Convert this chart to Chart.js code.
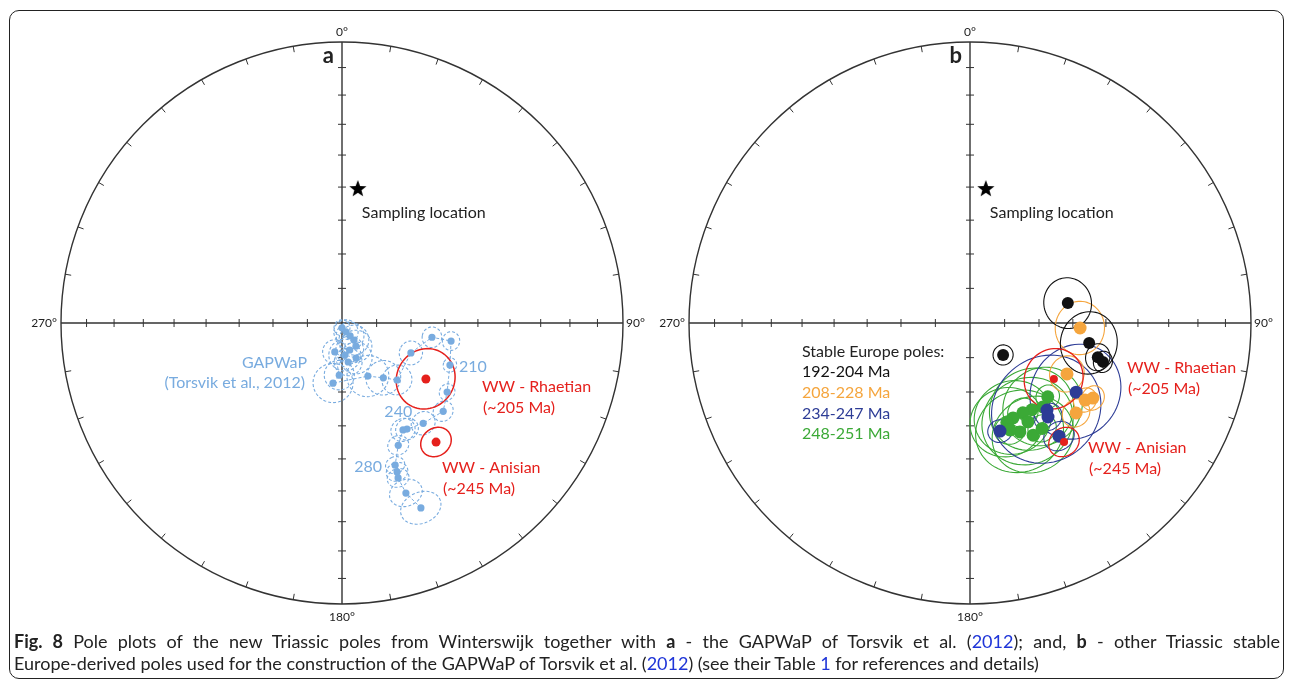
<!DOCTYPE html>
<html>
<head>
<meta charset="utf-8">
<script src="https://cdn.jsdelivr.net/npm/chart.js@4.4.0/dist/chart.umd.min.js"></script>
<style>
    body { margin: 0; width: 1292px; height: 687px; overflow: hidden; background: #fff; font-family: Lato, 'Open Sans', sans-serif; }
    #frame { position: absolute; left: 9px; top: 10px; width: 1275px; height: 669px; border: 1.5px solid #222; border-radius: 10px; box-sizing: border-box; }
    .net { position: absolute; top: -7px; width: 660px; height: 660px; }
    #netA { left: 12px; }
    #netB { left: 640px; }
    #caption { position: absolute; left: 14px; top: 630px; width: 1266px; font-size: 18px; line-height: 22px; color: #222; }
    #caption p { margin: 0; }
    #caption .l1 { text-align: justify; text-align-last: justify; }
    #caption .ref { color: #1f35d8; }
</style>
</head>
<body>
<div id="frame"></div>
<canvas id="netA" class="net" width="660" height="660"></canvas>
<canvas id="netB" class="net" width="660" height="660"></canvas>
<div id="caption">
    <p class="l1"><b>Fig. 8</b> Pole plots of the new Triassic poles from Winterswijk together with <b>a</b> - the GAPWaP of Torsvik et al. (<span class="ref">2012</span>); and, <b>b</b> - other Triassic stable</p>
    <p>Europe-derived poles used for the construction of the GAPWaP of Torsvik et al. (<span class="ref">2012</span>) (see their Table <span class="ref">1</span> for references and details)</p>
</div>
<script>
// ---- data (pole latitude / longitude / A95, degrees) ----

// sampling site
const siteLat = [50.0];
const siteLon = [6.7];

// new Winterswijk poles
const wwNames = ['WW - Rhaetian', 'WW - Anisian'];
const wwAges = ['(~205 Ma)', '(~245 Ma)'];
const wwLat = [60.6, 45.1];
const wwLon = [123.7, 141.7];
const wwA95 = [8.6, 4.3];

// panel a: GAPWaP of Torsvik et al. 2012 (30 - 320 Ma)
const gapAges = [30, 40, 50, 60, 70, 80, 90, 100, 110, 120, 130, 140, 150, 160, 170,
    180, 190, 200, 210, 220, 230, 240, 250, 260, 270, 280, 290, 300, 310, 320];
const gapLat = [88.6, 87.2, 85.6, 84.0, 82.2, 81.9, 80.7, 79.1, 78.6, 81.4, 74.9, 72.4, 72.9, 70.1, 67.0,
    68.2, 63.5, 57.7, 56.1, 53.1, 50.5, 52.1, 53.5, 53.9, 50.4, 45.1, 42.9, 41.0, 35.6, 29.2];
const gapLon = [180, 156, 148, 145, 149, 164, 175, 158, 171, 194, 183, 188.5, 154, 143, 136,
    113.5, 99, 99.4, 111.3, 123.3, 131.1, 141, 148.5, 150.3, 155.3, 159.5, 159.7, 160.1, 159.4, 156.9];
const gapA95 = [2.3, 3.5, 4.0, 4.3, 4.6, 4.0, 4.6, 4.6, 4.0, 3.5, 4.3, 5.7, 6.0, 5.0, 4.3,
    3.4, 2.9, 2.6, 2.0, 2.3, 2.9, 3.4, 3.2, 3.4, 2.9, 2.6, 2.9, 2.9, 4.3, 5.2];
const gapLabelAges = [210, 240, 280];

// panel b: stable Europe poles by age group
const groupNames = ['192-204 Ma', '208-228 Ma', '234-247 Ma', '248-251 Ma'];
const blackLat = [60.9, 54.6, 51.1, 49.2, 76.7];
const blackLon = [78.5, 99.5, 105, 106.3, 134];
const blackA95 = [7.1, 8.6, 3.7, 2.9, 2.9];
const orangeLat = [57.8, 58.0, 49.2, 47.5, 49.0];
const orangeLon = [92.6, 117.7, 123.8, 121.4, 130.3];
const orangeA95 = [7.4, 5.1, 3.4, 3.4, 4.0];
const blueLat = [52.8, 56.0, 54.2, 57.2, 47.5];
const blueLon = [123.1, 138.5, 140.3, 164.5, 141.8];
const blueA95 = [13.4, 15.7, 4.0, 3.4, 4.3];
const greenLat = [58.7, 57.5, 58.9, 59.6, 59.6, 59.0, 56.5, 52.2, 54.9, 56.6, 52.5];
const greenLon = [133.5, 139, 144.5, 149.5, 155.6, 159.7, 149.6, 150.6, 155.4, 159.5, 145.6];
const greenA95 = [3.4, 11.4, 12.0, 4.3, 10.9, 10.3, 12.9, 11.4, 12.3, 4.3, 4.0];

const COL = {
    gap: '#78abdf', red: '#e5201c', black: '#111111',
    orange: '#f5a53d', blue: '#2d3c96', green: '#3ba936', axis: '#333333'
};
const D = Math.PI / 180;

// north-polar equal-area projection, radius 1 at the equator
function project(lat, lon) {
    const r = Math.SQRT2 * Math.sin((90 - lat) * D / 2);
    return { x: r * Math.sin(lon * D), y: r * Math.cos(lon * D) };
}

function poles(lat, lon) {
    return lat.map((v, i) => project(v, lon[i]));
}

// outline of the A95 cone around a pole
function cone(lat, lon, a) {
    const pts = [];
    const la = lat * D, ar = a * D;
    for (let b = 0; b <= 360; b += 5) {
        const s = Math.sin(la) * Math.cos(ar) + Math.cos(la) * Math.sin(ar) * Math.cos(b * D);
        const pl = Math.asin(s);
        const dl = Math.atan2(Math.sin(b * D) * Math.sin(ar) * Math.cos(la), Math.cos(ar) - Math.sin(la) * s);
        pts.push(project(pl / D, lon + dl / D));
    }
    return pts;
}

function cones(lat, lon, a95, color, width, dash) {
    return lat.map((v, i) => ({ pts: cone(v, lon[i], a95[i]), color, width, dash }));
}

// filled five point star used for the sampling site
function starImage(size, color) {
    const c = document.createElement('canvas');
    c.width = c.height = size;
    const g = c.getContext('2d');
    const R = size / 2, r = R * 0.42;
    g.fillStyle = color;
    g.beginPath();
    for (let i = 0; i < 10; i++) {
        const rad = i % 2 ? r : R;
        const t = -Math.PI / 2 + i * Math.PI / 5;
        g.lineTo(R + rad * Math.cos(t), R + 1 + rad * Math.sin(t));
    }
    g.closePath();
    g.fill();
    return c;
}

// frame, cones and text of one stereonet
function netPlugin(spec) {
    return {
        id: 'net',
        beforeDatasetsDraw(chart) {
            const ctx = chart.ctx;
            const xs = chart.scales.x, ys = chart.scales.y;
            const px = p => [xs.getPixelForValue(p.x), ys.getPixelForValue(p.y)];
            const cx = xs.getPixelForValue(0), cy = ys.getPixelForValue(0);
            const R = xs.getPixelForValue(1) - cx;
            ctx.save();
            ctx.strokeStyle = COL.axis;
            ctx.lineWidth = 1.4;
            ctx.beginPath();
            ctx.arc(cx, cy, R, 0, 2 * Math.PI);
            ctx.stroke();
            ctx.beginPath();
            ctx.moveTo(cx - R, cy); ctx.lineTo(cx + R, cy);
            ctx.moveTo(cx, cy - R); ctx.lineTo(cx, cy + R);
            ctx.stroke();
            ctx.lineWidth = 1;
            ctx.beginPath();
            for (let lon = 10; lon < 360; lon += 10) {
                if (lon % 90 === 0) continue;
                const s = Math.sin(lon * D), c = Math.cos(lon * D);
                ctx.moveTo(cx + R * s, cy - R * c);
                ctx.lineTo(cx + (R - 6) * s, cy - (R - 6) * c);
            }
            for (let lat = 10; lat < 90; lat += 10) {
                [0, 90, 180, 270].forEach(lon => {
                    const [x, y] = px(project(lat, lon));
                    if (lon % 180 === 0) { ctx.moveTo(x - 4, y); ctx.lineTo(x + 4, y); }
                    else { ctx.moveTo(x, y - 4); ctx.lineTo(x, y + 4); }
                });
            }
            ctx.stroke();
            spec.cones.forEach(c => {
                ctx.strokeStyle = c.color;
                ctx.lineWidth = c.width;
                ctx.setLineDash(c.dash || []);
                ctx.beginPath();
                c.pts.forEach((p, i) => {
                    const [x, y] = px(p);
                    if (i) ctx.lineTo(x, y); else ctx.moveTo(x, y);
                });
                ctx.closePath();
                ctx.stroke();
            });
            ctx.restore();
        },
        afterDatasetsDraw(chart) {
            const ctx = chart.ctx;
            const xs = chart.scales.x, ys = chart.scales.y;
            const cx = xs.getPixelForValue(0), cy = ys.getPixelForValue(0);
            const R = xs.getPixelForValue(1) - cx;
            ctx.save();
            ctx.textBaseline = 'middle';
            ctx.font = '12px Lato';
            ctx.fillStyle = '#222';
            ctx.textAlign = 'center';
            ctx.fillText('0°', cx, cy - R - 10);
            ctx.fillText('180°', cx, cy + R + 13);
            ctx.textAlign = 'right';
            ctx.fillText('270°', cx - R - 4, cy);
            ctx.textAlign = 'left';
            ctx.fillText('90°', cx + R + 3, cy);
            ctx.font = 'bold 22px Lato';
            ctx.textAlign = 'right';
            ctx.fillText(spec.letter, cx - 8, cy - R + 14);
            spec.texts.forEach(t => {
                let ax = cx, ay = cy;
                if (t.at) { ax = xs.getPixelForValue(t.at.x); ay = ys.getPixelForValue(t.at.y); }
                ctx.font = t.font || '16px Lato';
                ctx.fillStyle = t.color || '#222';
                ctx.textAlign = t.align || 'left';
                ctx.fillText(t.text, ax + t.dx, ay + t.dy);
            });
            ctx.restore();
        }
    };
}

function makeNet(id, datasets, spec) {
    return new Chart(document.getElementById(id), {
        type: 'scatter',
        data: { datasets },
        options: {
            responsive: false,
            animation: false,
            events: [],
            layout: { padding: 49 },
            scales: {
                x: { type: 'linear', min: -1, max: 1, display: false },
                y: { type: 'linear', min: -1, max: 1, display: false }
            },
            plugins: { legend: { display: false }, tooltip: { enabled: false } }
        },
        plugins: [netPlugin(spec)]
    });
}

const site = poles(siteLat, siteLon)[0];
const ww = poles(wwLat, wwLon);
const gap = poles(gapLat, gapLon);
const star = starImage(18, '#000');

function dots(data, color, radius) {
    return { data, showLine: false, pointRadius: radius, pointBackgroundColor: color, pointBorderWidth: 0 };
}
const siteSet = { data: [site], pointStyle: star, pointRadius: 9 };

// panel a
makeNet('netA', [
    siteSet,
    dots(ww, COL.red, 4.5),
    Object.assign(dots(gap, COL.gap, 3.6), { showLine: true, borderColor: COL.gap, borderWidth: 1, borderDash: [3, 2] })
], {
    letter: 'a',
    cones: [
        ...cones(gapLat, gapLon, gapA95, COL.gap, 1.1, [3, 2]),
        ...cones(wwLat, wwLon, wwA95, COL.red, 1.5)
    ],
    texts: [
        { text: 'Sampling location', at: site, dx: 4, dy: 25 },
        { text: 'GAPWaP', dx: -35, dy: 40, align: 'right', color: COL.gap },
        { text: '(Torsvik et al., 2012)', dx: -37, dy: 60, align: 'right', color: COL.gap },
        ...gapLabelAges.map((age, k) => {
            const p = gap[gapAges.indexOf(age)];
            const off = [[9, 2, 'left'], [-11, -11, 'right'], [-13, 2, 'right']][k];
            return { text: String(age), at: p, dx: off[0], dy: off[1], align: off[2], color: COL.gap };
        }),
        { text: wwNames[0], at: ww[0], dx: 56, dy: 8, color: COL.red },
        { text: wwAges[0], at: ww[0], dx: 57, dy: 29, color: COL.red },
        { text: wwNames[1], at: ww[1], dx: 6, dy: 26, color: COL.red },
        { text: wwAges[1], at: ww[1], dx: 7, dy: 47, color: COL.red }
    ]
});

// panel b
makeNet('netB', [
    siteSet,
    dots(ww, COL.red, 4),
    dots(poles(blackLat, blackLon), COL.black, 6),
    dots(poles(orangeLat, orangeLon), COL.orange, 6.5),
    dots(poles(blueLat, blueLon), COL.blue, 6.5),
    dots(poles(greenLat, greenLon), COL.green, 6.5)
], {
    letter: 'b',
    cones: [
        ...cones(greenLat, greenLon, greenA95, COL.green, 1.1),
        ...cones(blueLat, blueLon, blueA95, COL.blue, 1.1),
        ...cones(orangeLat, orangeLon, orangeA95, COL.orange, 1.1),
        ...cones(blackLat, blackLon, blackA95, COL.black, 1.1),
        ...cones(wwLat, wwLon, wwA95, COL.red, 1.3)
    ],
    texts: [
        { text: 'Sampling location', at: site, dx: 4, dy: 25 },
        { text: 'Stable Europe poles:', dx: -168, dy: 29 },
        ...groupNames.map((g, k) => ({
            text: g, dx: -168, dy: 49 + k * 20.7,
            color: [COL.black, COL.orange, COL.blue, COL.green][k]
        })),
        { text: wwNames[0], at: ww[0], dx: 73, dy: -11, color: COL.red },
        { text: wwAges[0], at: ww[0], dx: 74, dy: 10, color: COL.red },
        { text: wwNames[1], at: ww[1], dx: 24, dy: 6, color: COL.red },
        { text: wwAges[1], at: ww[1], dx: 25, dy: 27, color: COL.red }
    ]
});
</script>
</body>
</html>
